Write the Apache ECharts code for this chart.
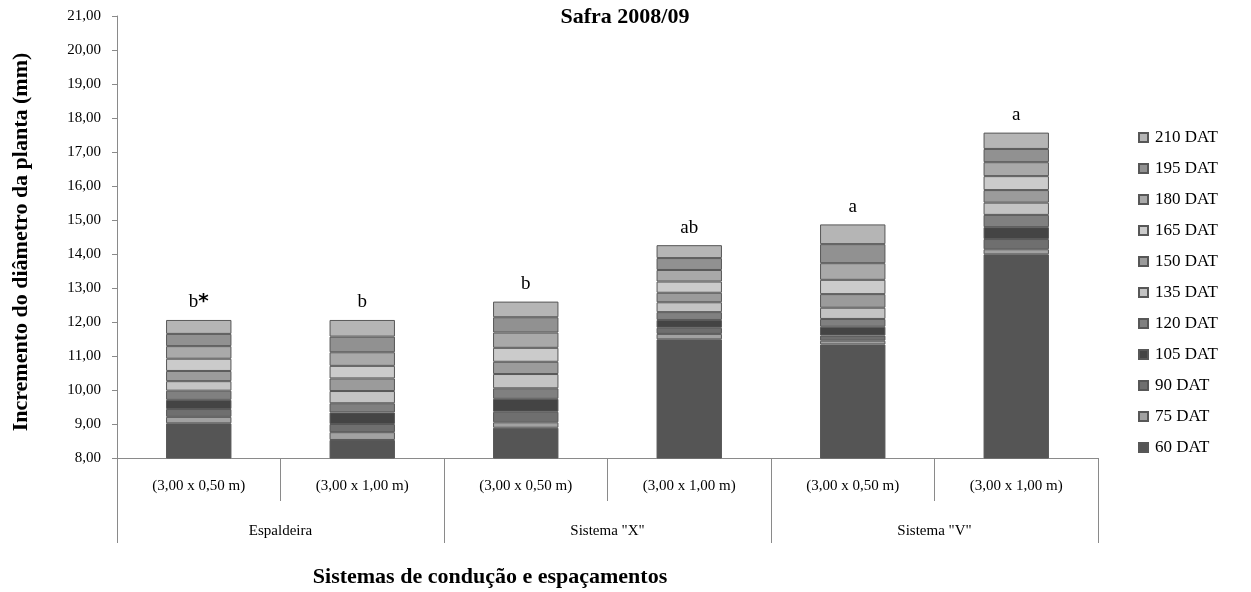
<!DOCTYPE html>
<html>
<head>
<meta charset="utf-8">
<script src="https://cdn.jsdelivr.net/npm/echarts@6/dist/echarts.min.js"></script>
<style>html,body{margin:0;padding:0;background:#fff;}#c{width:1251px;height:592px;}</style>
</head>
<body>
<div id="c"></div>
<script>
const categories = ['(3,00 x 0,50 m)', '(3,00 x 1,00 m)', '(3,00 x 0,50 m)', '(3,00 x 1,00 m)', '(3,00 x 0,50 m)', '(3,00 x 1,00 m)'];
const groups = ['Espaldeira', 'Sistema "X"', 'Sistema "V"'];
const letters = ['b*', 'b', 'b', 'ab', 'a', 'a'];
const seriesNames = ['60 DAT', '75 DAT', '90 DAT', '105 DAT', '120 DAT', '135 DAT', '150 DAT', '165 DAT', '180 DAT', '195 DAT', '210 DAT'];
const dat60  = [9.02, 8.53, 8.89, 11.49, 11.34, 13.99];
const dat75  = [0.19, 0.23, 0.16, 0.16, 0.11, 0.15];
const dat90  = [0.23, 0.24, 0.31, 0.18, 0.15, 0.30];
const dat105 = [0.27, 0.34, 0.38, 0.23, 0.26, 0.35];
const dat120 = [0.27, 0.27, 0.31, 0.23, 0.23, 0.36];
const dat135 = [0.28, 0.36, 0.42, 0.29, 0.33, 0.36];
const dat150 = [0.30, 0.37, 0.36, 0.28, 0.40, 0.37];
const dat165 = [0.36, 0.37, 0.41, 0.33, 0.42, 0.41];
const dat180 = [0.37, 0.40, 0.45, 0.34, 0.49, 0.41];
const dat195 = [0.36, 0.46, 0.45, 0.35, 0.56, 0.39];
const dat210 = [0.41, 0.49, 0.46, 0.38, 0.58, 0.48];
const yTicks = {min: 8, max: 21, interval: 1};

const values = [dat60, dat75, dat90, dat105, dat120, dat135, dat150, dat165, dat180, dat195, dat210];
const colors = ['#555555', '#a2a2a2', '#6f6f6f', '#444444', '#808080', '#c4c4c4', '#9b9b9b', '#cbcbcb', '#a9a9a9', '#919191', '#b5b5b5'];
const FONT = 'Liberation Serif';

const series = seriesNames.map((n, i) => {
  const s = {
    name: n, type: 'bar', stack: 'total', data: values[i],
    barCategoryGap: '60%',
    itemStyle: {color: colors[i], borderColor: '#575757', borderWidth: 1},
    emphasis: {disabled: true}
  };
  if (i === seriesNames.length - 1) {
    s.label = {
      show: true, position: 'top', distance: 8, color: '#000',
      fontFamily: FONT, fontSize: 19,
      formatter: p => letters[p.dataIndex].replace('*', '{s|*}'),
      rich: {s: {fontFamily: 'DejaVu Sans', fontSize: 20, fontWeight: 'bold', color: '#000'}}
    };
  }
  return s;
});

const chart = echarts.init(document.getElementById('c'));
chart.setOption({
  animation: false,
  backgroundColor: '#fff',
  grid: {left: 117, right: 153, top: 16, bottom: 134},
  legend: {
    orient: 'vertical', left: 1133, top: 124,
    data: seriesNames.slice().reverse(),
    icon: 'rect', itemWidth: 9, itemHeight: 9, itemGap: 14,
    textStyle: {fontFamily: FONT, fontSize: 17, color: '#000', lineHeight: 17, padding: [0, 0, 0, 2]}
  },
  xAxis: [
    {
      type: 'category', data: categories, position: 'bottom',
      axisLine: {show: true, lineStyle: {color: '#8a8a8a'}},
      axisTick: {show: true, interval: 0, length: 43, lineStyle: {color: '#8a8a8a'}},
      axisLabel: {interval: 0, margin: 21, fontFamily: FONT, fontSize: 15, color: '#000'}
    },
    {
      type: 'category', data: groups, position: 'bottom',
      axisLine: {show: false},
      axisTick: {show: true, interval: 0, length: 85, lineStyle: {color: '#8a8a8a'}},
      axisLabel: {interval: 0, margin: 66, fontFamily: FONT, fontSize: 15, color: '#000'}
    }
  ],
  yAxis: {
    type: 'value', min: yTicks.min, max: yTicks.max, interval: yTicks.interval,
    splitLine: {show: false},
    axisLine: {show: true, lineStyle: {color: '#8a8a8a'}},
    axisTick: {show: true, length: 5, lineStyle: {color: '#8a8a8a'}},
    axisLabel: {margin: 16, fontFamily: FONT, fontSize: 15, color: '#000',
      formatter: v => v.toFixed(2).replace('.', ',')}
  },
  graphic: [
    {type: 'text', x: 625, y: 17, style: {text: 'Safra 2008/09', font: 'bold 22px "Liberation Serif"', fill: '#000', align: 'center', verticalAlign: 'middle'}},
    {type: 'text', x: 490, y: 577, style: {text: 'Sistemas de condução e espaçamentos', font: 'bold 22px "Liberation Serif"', fill: '#000', align: 'center', verticalAlign: 'middle'}},
    {type: 'text', x: 21, y: 242, rotation: Math.PI / 2, style: {text: 'Incremento do diâmetro da planta (mm)', font: 'bold 22px "Liberation Serif"', fill: '#000', align: 'center', verticalAlign: 'middle'}}
  ],
  series: series
});
</script>
</body>
</html>
